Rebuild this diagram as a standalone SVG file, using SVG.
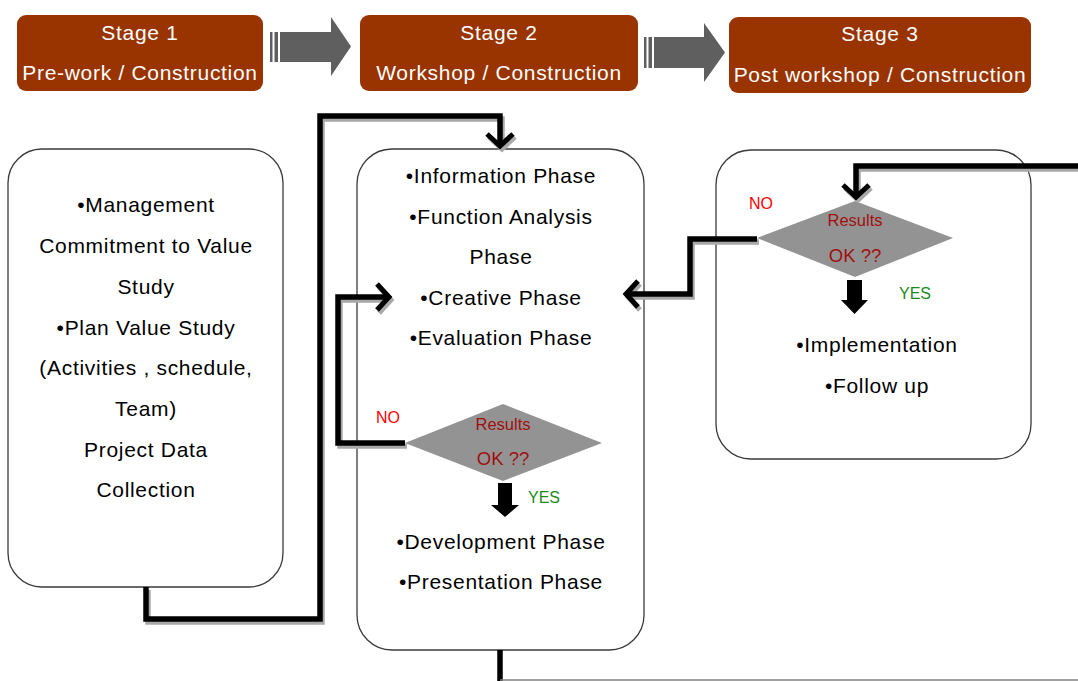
<svg xmlns="http://www.w3.org/2000/svg" width="1078" height="681" viewBox="0 0 1078 681">
<style>
.stage{fill:#993300;}
.stxt{font-family:"Liberation Sans",Arial,sans-serif;font-size:21px;fill:#ffffff;text-anchor:middle;letter-spacing:0.7px;}
.box{fill:#ffffff;stroke:#3a3a3a;stroke-width:1.3;}
.txt{font-family:"Liberation Sans",Arial,sans-serif;font-size:21px;fill:#000000;text-anchor:middle;letter-spacing:0.7px;}
.dia{fill:#939393;}
.res{font-family:"Liberation Sans",Arial,sans-serif;fill:#a01010;text-anchor:middle;}
.no{font-family:"Liberation Sans",Arial,sans-serif;font-size:16px;fill:#ff0000;}
.yes{font-family:"Liberation Sans",Arial,sans-serif;font-size:16px;fill:#1a8a1a;}
.grey{fill:#5f5f5f;}
.line{fill:none;stroke:#000000;stroke-width:5.5;stroke-linejoin:miter;}
.shadow{fill:none;stroke:#a8a8a8;stroke-width:5.5;}
</style>
<defs>
<marker id="chev" markerUnits="userSpaceOnUse" markerWidth="24" markerHeight="32" refX="13" refY="14" orient="auto" overflow="visible">
<path d="M1,1 L13,14 L1,27" fill="none" stroke="#000000" stroke-width="5"/>
</marker>
<marker id="chevs" markerUnits="userSpaceOnUse" markerWidth="24" markerHeight="32" refX="13" refY="14" orient="auto" overflow="visible">
<path d="M1,1 L13,14 L1,27" fill="none" stroke="#a8a8a8" stroke-width="5"/>
</marker>
</defs>
<rect width="1078" height="681" fill="#ffffff"/>

<g id="stage1">
<rect class="stage" x="17" y="15" width="246" height="76" rx="9"/>
<text class="stxt" x="140" y="40">Stage 1</text>
<text class="stxt" x="140" y="80">Pre-work / Construction</text>
</g>
<g id="arrow1">
<rect class="grey" x="270" y="32" width="2.5" height="30"/>
<rect class="grey" x="274.5" y="32" width="3.5" height="30"/>
<polygon class="grey" points="280,32 331,32 331,17 351,46.5 331,76 331,62 280,62"/>
</g>
<g id="stage2">
<rect class="stage" x="360" y="15" width="278" height="76" rx="9"/>
<text class="stxt" x="499" y="40">Stage 2</text>
<text class="stxt" x="499" y="80">Workshop / Construction</text>
</g>
<g id="arrow2">
<rect class="grey" x="644" y="37" width="2.5" height="31"/>
<rect class="grey" x="648.5" y="37" width="3.5" height="31"/>
<polygon class="grey" points="654,37 704,37 704,23 725,52.5 704,82 704,68 654,68"/>
</g>
<g id="stage3">
<rect class="stage" x="729" y="17" width="302" height="76" rx="9"/>
<text class="stxt" x="880" y="41">Stage 3</text>
<text class="stxt" x="880" y="82">Post workshop / Construction</text>
</g>

<g id="box1">
<rect class="box" x="8" y="149" width="275" height="438" rx="34"/>
<text class="txt" x="146" y="212">•Management</text>
<text class="txt" x="146" y="253">Commitment to Value</text>
<text class="txt" x="146" y="294">Study</text>
<text class="txt" x="146" y="335">•Plan Value Study</text>
<text class="txt" x="146" y="375">(Activities , schedule,</text>
<text class="txt" x="146" y="416">Team)</text>
<text class="txt" x="146" y="457">Project Data</text>
<text class="txt" x="146" y="497">Collection</text>
</g>

<g id="box2">
<rect class="box" x="357" y="149" width="287" height="501" rx="35"/>
<text class="txt" x="501" y="183">•Information Phase</text>
<text class="txt" x="501" y="224">•Function Analysis</text>
<text class="txt" x="501" y="264">Phase</text>
<text class="txt" x="501" y="305">•Creative Phase</text>
<text class="txt" x="501" y="345">•Evaluation Phase</text>
<text class="txt" x="501" y="549">•Development Phase</text>
<text class="txt" x="501" y="589">•Presentation Phase</text>
</g>

<g id="decision2">
<polygon class="dia" points="405,443 503,404 602,443 503,481"/>
<text class="res" x="503" y="430" font-size="16.5">Results</text>
<text class="res" x="503" y="465" font-size="18.5">OK ??</text>
<text class="no" x="376" y="423">NO</text>
<text class="yes" x="528" y="503">YES</text>
<polygon fill="#000000" points="498,483 512,483 512,505 519,505 505,517 491,505 498,505"/>
</g>

<g id="box3">
<rect class="box" x="716" y="150" width="315" height="309" rx="35"/>
<text class="txt" x="877" y="352">•Implementation</text>
<text class="txt" x="877" y="393">•Follow up</text>
</g>

<g id="decision3">
<polygon class="dia" points="757,238 855,201 953,238 855,277"/>
<text class="res" x="855" y="226" font-size="16.5">Results</text>
<text class="res" x="855" y="262" font-size="18.5">OK ??</text>
<text class="no" x="749" y="209">NO</text>
<text class="yes" x="899" y="299">YES</text>
<polygon fill="#000000" points="847,280 862,280 862,300 868,300 854.5,314 841,300 847,300"/>
</g>

<g id="connectors">
<g transform="translate(2,3)">
<path class="shadow" d="M146,587 V619 H320 V116 H500 V146" marker-end="url(#chevs)"/>
<path class="shadow" d="M405,443 H338 V297 H389" marker-end="url(#chevs)"/>
<path class="shadow" d="M757,239 H690 V294 H626" marker-end="url(#chevs)"/>
<path class="shadow" d="M1078,166 H856 V197" marker-end="url(#chevs)"/>
</g>
<path class="line" d="M146,587 V619 H320 V116 H500 V146" marker-end="url(#chev)"/>
<path class="line" d="M405,443 H338 V297 H389" marker-end="url(#chev)"/>
<path class="line" d="M757,239 H690 V294 H626" marker-end="url(#chev)"/>
<path class="line" d="M1078,166 H856 V197" marker-end="url(#chev)"/>
<path class="line" d="M500,650 V681"/>
<path d="M500,680 H1078" fill="none" stroke="#808080" stroke-width="1.5"/>
</g>
</svg>
